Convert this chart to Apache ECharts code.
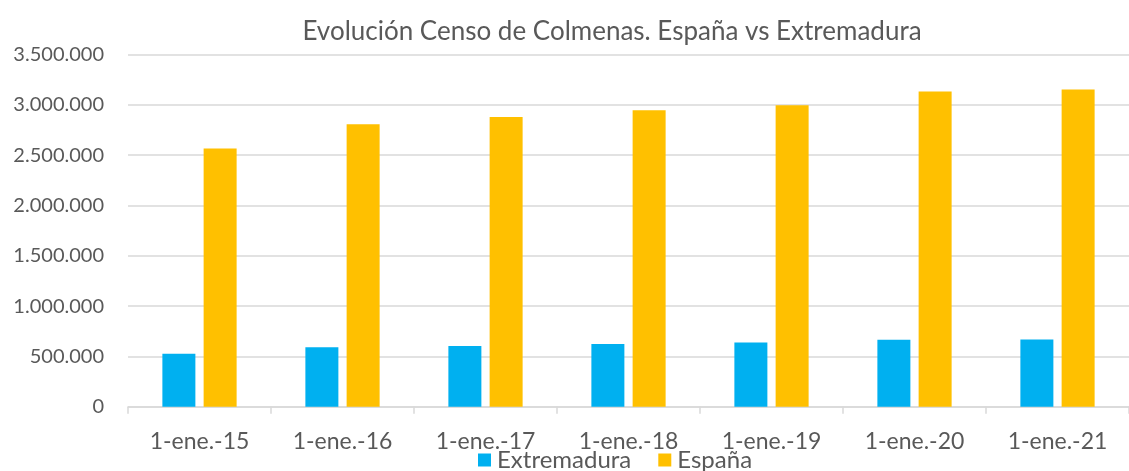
<!DOCTYPE html>
<html>
<head>
    <meta http-equiv="Content-Type" content="text/html; charset=utf-8" />
    <script src="https://cdn.jsdelivr.net/npm/echarts@6/dist/echarts.min.js"></script>
    <style>
        html, body { margin: 0; padding: 0; background: #fff; }
        #chart { width: 1129px; height: 471px; }
    </style>
</head>
<body>
<div id="chart"></div>
<script type="text/javascript">
    // datos
    var categorias = ['1-ene.-15', '1-ene.-16', '1-ene.-17', '1-ene.-18', '1-ene.-19', '1-ene.-20', '1-ene.-21'];
    var extremadura = [525000, 590000, 603000, 623000, 639000, 666000, 667000];
    var espana = [2565000, 2808000, 2878000, 2947000, 2995000, 3133000, 3152000];

    function miles(v) {
        return String(v).replace(/\B(?=(\d{3})+(?!\d))/g, '.');
    }

    var chart = echarts.init(document.getElementById('chart'));
    var fuente = 'Lato';
    var option = {
        animation: false,
        title: {
            text: 'Evolución Censo de Colmenas. España vs Extremadura',
            left: 607,
            textAlign: 'center',
            top: 14,
            textStyle: { fontFamily: fuente, fontSize: 26, fontWeight: 'normal', color: '#595959' }
        },
        legend: {
            data: ['Extremadura', 'España'],
            bottom: -6,
            left: 473,
            itemWidth: 13,
            itemHeight: 13,
            itemGap: 27,
            icon: 'rect',
            textStyle: { fontFamily: fuente, fontSize: 24, color: '#595959', padding: [0, 0, 0, 1] }
        },
        grid: { left: 128, right: 0, top: 54.5, bottom: 64.3, containLabel: false },
        xAxis: {
            type: 'category',
            data: categorias,
            axisLine: { lineStyle: { color: '#d9d9d9', width: 1.5 } },
            axisTick: { show: true, length: 7, lineStyle: { color: '#d9d9d9', width: 1.5 } },
            axisLabel: { fontFamily: fuente, fontSize: 23, color: '#595959', margin: 23 }
        },
        yAxis: {
            type: 'value',
            min: 0,
            max: 3500000,
            interval: 500000,
            axisLine: { show: false },
            axisTick: { show: false },
            splitLine: { lineStyle: { color: '#d9d9d9', width: 1.5 } },
            axisLabel: {
                fontFamily: fuente, fontSize: 20, color: '#595959', margin: 24,
                formatter: function (v) { return miles(v); }
            }
        },
        series: [
            {
                name: 'Extremadura',
                type: 'bar',
                data: extremadura,
                barWidth: 33,
                barGap: '25%',
                itemStyle: { color: '#00B0F0' }
            },
            {
                name: 'España',
                type: 'bar',
                data: espana,
                barWidth: 33,
                itemStyle: { color: '#FFC000' }
            }
        ]
    };
    chart.setOption(option);
</script>
</body>
</html>
